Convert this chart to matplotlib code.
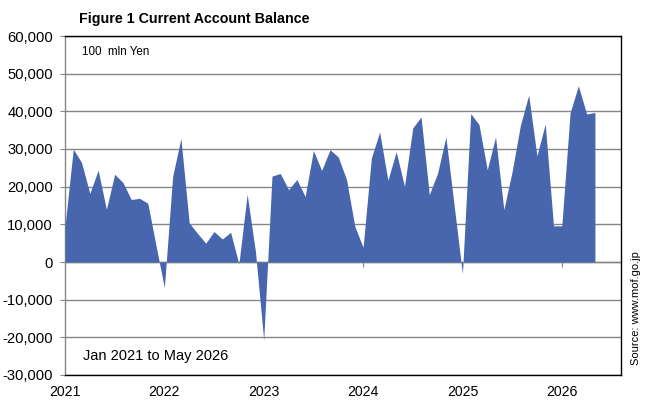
import matplotlib.pyplot as plt
from matplotlib.ticker import FuncFormatter

plt.rcParams['font.family'] = ['Liberation Sans', 'DejaVu Sans']

# monthly current account balance, 100 mln yen, Jan 2021 .. May 2026
bal_2021 = [9500, 30000, 26400, 18200, 24400, 14000, 23300, 21100, 16600, 16900, 15600, 4300]
bal_2022 = [-6800, 22700, 32800, 10400, 7600, 5000, 8100, 6100, 7900, -500, 18000, 2800]
bal_2023 = [-20700, 22800, 23500, 19200, 21900, 17400, 29600, 24300, 29800, 27900, 21900, 9500]
bal_2024 = [3900, 27600, 34500, 21700, 29300, 20100, 35600, 38500, 17900, 23600, 33200, 15000]
bal_2025 = [-3100, 39400, 36500, 24500, 33200, 13900, 24000, 36300, 44300, 28200, 36700, 9600]
bal_2026 = [9600, 39600, 46800, 39300, 39700]

years = ['2021', '2022', '2023', '2024', '2025', '2026']

balance = bal_2021 + bal_2022 + bal_2023 + bal_2024 + bal_2025 + bal_2026
months = list(range(len(balance)))
year_pos = [12 * i for i in range(len(years))]

W, H = 655, 407
fig = plt.figure(figsize=(W / 100, H / 100), dpi=100)
ax = fig.add_axes([65 / W, 1 - 375 / H, (621 - 65) / W, (375 - 36) / H])

ax.fill_between(months, 0, balance, color='#4866ae', linewidth=0, zorder=3)

ax.set_ylim(-30000, 60000)
ax.set_yticks(range(-30000, 60001, 10000))
ax.yaxis.set_major_formatter(FuncFormatter(lambda v, p: f'{int(v):,}'))
ax.set_xlim(0, 67.15)
ax.set_xticks(year_pos)
ax.set_xticklabels(years)

ax.grid(axis='y', color='#868686', linewidth=1.0, zorder=1)
ax.tick_params(axis='y', length=3.6, width=0.8, color='#868686', pad=5,
               labelsize=10.6, direction='out')
ax.tick_params(axis='x', length=0, pad=7, labelsize=10.2)

for side in ['top', 'right', 'bottom']:
    ax.spines[side].set_color('black')
    ax.spines[side].set_linewidth(1.0)
ax.spines['left'].set_color('#868686')
ax.spines['left'].set_linewidth(1.0)

# category axis crossing at zero with tick marks
zero_ax = ax.secondary_xaxis(1 / 3)
zero_ax.set_xticks(year_pos[1:])
zero_ax.tick_params(length=3.6, width=0.8, color='#868686', labelbottom=False,
                    labeltop=False, direction='out')
zero_ax.spines['bottom'].set_color('#868686')
zero_ax.spines['bottom'].set_linewidth(1.0)

fig.text(79 / W, 1 - 19 / H, 'Figure 1 Current Account Balance', fontsize=10.3,
         fontweight='bold', va='center', ha='left')
fig.text(82 / W, 1 - 52 / H, '100  mln Yen', fontsize=8.4, va='center', ha='left')
fig.text(83 / W, 1 - 356 / H, 'Jan 2021 to May 2026', fontsize=10.5,
         va='center', ha='left')
fig.text(636 / W, 1 - 308 / H, 'Source: www.mof.go.jp', fontsize=8, rotation=90,
         va='center', ha='center')

fig.savefig('out.png', dpi=100)
